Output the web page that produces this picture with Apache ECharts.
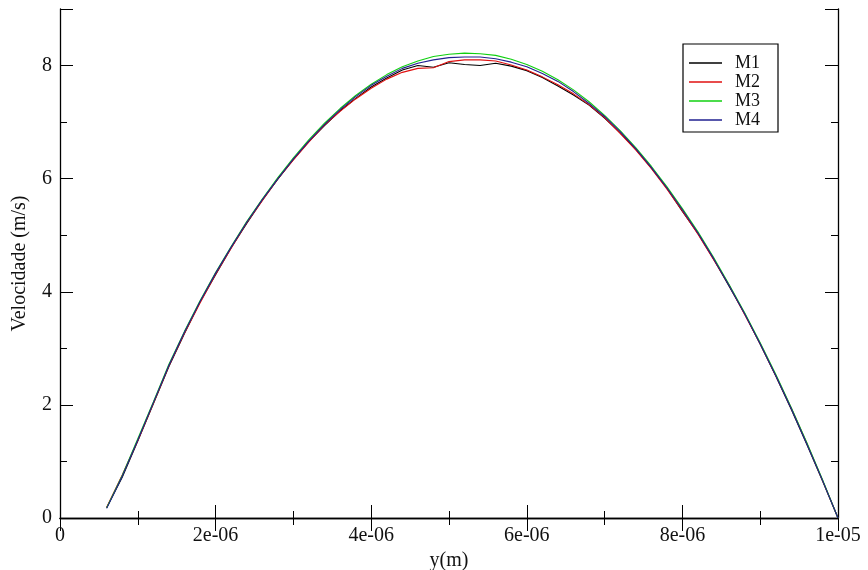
<!DOCTYPE html>
<html>
<head>
<meta charset="utf-8">
<script src="https://cdn.jsdelivr.net/npm/echarts@6/dist/echarts.min.js"></script>
<style>
html,body{margin:0;padding:0;background:#fff;}
#chart{width:868px;height:570px;}
</style>
</head>
<body>
<div id="chart"></div>
<script>
// Data (x in micrometres, converted to metres below)
const positionsMicro = [0.6,0.8,1.0,1.2,1.4,1.6,1.8,2.0,2.2,2.4,2.6,2.8,3.0,3.2,3.4,3.6,3.8,4.0,4.2,4.4,4.6,4.8,5.0,5.2,5.4,5.6,5.8,6.0,6.2,6.4,6.6,6.8,7.0,7.2,7.4,7.6,7.8,8.0,8.2,8.4,8.6,8.8,9.0,9.2,9.4,9.6,9.8,10.0];
const seriesNames = ['M1','M2','M3','M4'];
const m1 = [0.18,0.72,1.36,2.02,2.68,3.26,3.82,4.30,4.78,5.21,5.62,5.99,6.34,6.66,6.94,7.20,7.42,7.62,7.78,7.92,8.00,7.97,8.05,8.02,8.00,8.04,7.99,7.91,7.79,7.64,7.48,7.30,7.07,6.81,6.52,6.19,5.83,5.42,5.03,4.58,4.10,3.61,3.07,2.51,1.92,1.30,0.66,0.00];
const m2 = [0.19,0.76,1.37,2.03,2.69,3.27,3.80,4.31,4.77,5.22,5.61,6.00,6.33,6.65,6.95,7.19,7.41,7.60,7.76,7.88,7.95,7.96,8.07,8.10,8.10,8.08,8.01,7.92,7.80,7.66,7.50,7.31,7.08,6.80,6.51,6.18,5.82,5.43,5.02,4.57,4.12,3.60,3.08,2.52,1.94,1.32,0.67,0.00];
const m3 = [0.18,0.75,1.40,2.05,2.72,3.30,3.84,4.34,4.80,5.24,5.64,6.02,6.37,6.69,6.98,7.24,7.47,7.67,7.84,7.98,8.08,8.16,8.20,8.22,8.21,8.18,8.11,8.02,7.90,7.75,7.57,7.36,7.12,6.85,6.55,6.22,5.86,5.47,5.06,4.61,4.13,3.63,3.10,2.54,1.95,1.33,0.68,0.00];
const m4 = [0.17,0.74,1.38,2.04,2.70,3.29,3.83,4.33,4.79,5.23,5.63,6.00,6.35,6.67,6.96,7.22,7.45,7.65,7.81,7.95,8.04,8.10,8.14,8.15,8.15,8.12,8.06,7.98,7.86,7.72,7.54,7.33,7.10,6.83,6.53,6.20,5.84,5.45,5.04,4.59,4.11,3.61,3.08,2.52,1.93,1.31,0.67,0.00];
const xTickLabels = ['0','2e-06','4e-06','6e-06','8e-06','1e-05'];
const yTickLabels = ['0','2','4','6','8'];
const xAxisTitle = 'y(m)';
const yAxisTitle = 'Velocidade (m/s)';

const FONT = "'Liberation Serif','DejaVu Serif','Times New Roman',serif";
const colors = ['#000000','#e01010','#10d010','#202090'];
const valuesList = [m1,m2,m3,m4];

const chart = echarts.init(document.getElementById('chart'), null, {renderer:'canvas'});

const axisLineStyle = {show:true, lineStyle:{color:'#000', width:1.3}};
const xCommon = {type:'value', min:0, max:1e-5, interval:2e-6, splitLine:{show:false}};
const yCommon = {type:'value', min:0, max:9, splitLine:{show:false}};

const option = {
  backgroundColor:'#fff',
  animation:false,
  grid:{left:60, right:30, top:9, bottom:52, containLabel:false, outerBoundsMode:'none'},
  legend:{
    data:seriesNames, orient:'vertical', left:683, top:44,
    icon:'rect',
    backgroundColor:'#fff', borderColor:'#000', borderWidth:1.2,
    padding:[10,18,3,6], itemGap:1, itemWidth:33, itemHeight:1.5,
    textStyle:{fontFamily:FONT, fontSize:18, color:'#111', padding:[0,0,0,8]}
  },
  xAxis:[
    Object.assign({}, xCommon, {
      position:'bottom',
      axisLine:axisLineStyle,
      axisTick:{show:true, inside:true, length:13, lineStyle:{color:'#000', width:1}},
      minorTick:{show:true, splitNumber:2, length:7, lineStyle:{color:'#000', width:1}},
      axisLabel:{fontFamily:FONT, fontSize:20, color:'#111', margin:8,
        formatter:function(v){ const i = Math.round(v/2e-6); return xTickLabels[i] !== undefined ? xTickLabels[i] : ''; }},
      name:xAxisTitle, nameLocation:'middle', nameGap:31,
      nameTextStyle:{fontFamily:FONT, fontSize:20, color:'#111'}
    }),
    Object.assign({}, xCommon, {
      position:'top',
      axisLine:axisLineStyle,
      axisTick:{show:true, inside:true, length:13, lineStyle:{color:'#000', width:1}},
      minorTick:{show:true, splitNumber:2, length:7, lineStyle:{color:'#000', width:1}},
      axisLabel:{show:false}
    })
  ],
  yAxis:[
    Object.assign({}, yCommon, {
      position:'left', interval:2,
      axisLine:axisLineStyle,
      axisTick:{show:true, inside:true, length:13, lineStyle:{color:'#000', width:1}},
      axisLabel:{fontFamily:FONT, fontSize:20, color:'#111', margin:8,
        formatter:function(v){ const i = Math.round(v/2); return (Math.abs(v - i*2) < 1e-9 && yTickLabels[i] !== undefined) ? yTickLabels[i] : ''; }},
      name:yAxisTitle, nameLocation:'middle', nameGap:30,
      nameTextStyle:{fontFamily:FONT, fontSize:20, color:'#111'}
    }),
    Object.assign({}, yCommon, {
      position:'left', interval:1,
      axisLine:{show:false},
      axisTick:{show:true, inside:true, length:7, lineStyle:{color:'#000', width:1}},
      axisLabel:{show:false}
    }),
    Object.assign({}, yCommon, {
      position:'right', interval:2,
      axisLine:axisLineStyle,
      axisTick:{show:true, inside:true, length:13, lineStyle:{color:'#000', width:1}},
      axisLabel:{show:false}
    }),
    Object.assign({}, yCommon, {
      position:'right', interval:1,
      axisLine:{show:false},
      axisTick:{show:true, inside:true, length:7, lineStyle:{color:'#000', width:1}},
      axisLabel:{show:false}
    })
  ],
  series: seriesNames.map(function(name, k){
    return {
      name:name, type:'line', xAxisIndex:0, yAxisIndex:0,
      symbol:'none', showSymbol:false, smooth:false,
      lineStyle:{color:colors[k], width:1.1},
      itemStyle:{color:colors[k]},
      emphasis:{disabled:true},
      data: positionsMicro.map(function(p, i){ return [p*1e-6, valuesList[k][i]]; })
    };
  })
};
chart.setOption(option);
</script>
</body>
</html>
